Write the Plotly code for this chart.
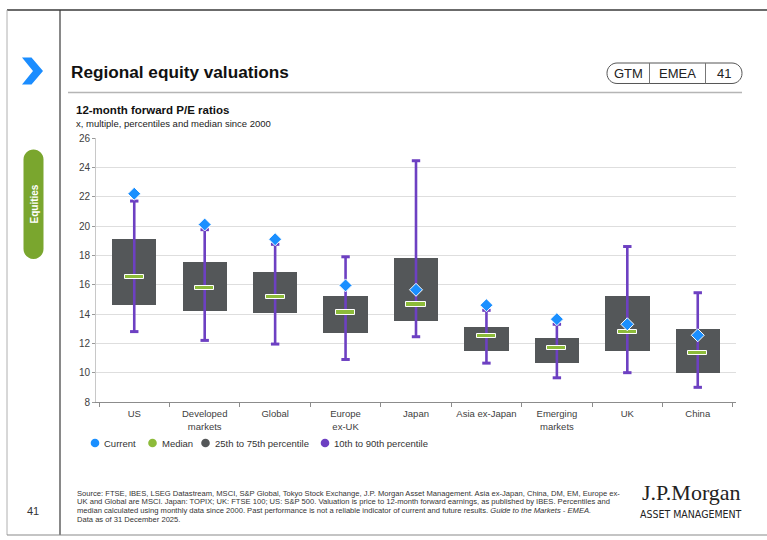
import plotly.graph_objects as go

# ---------------- data ----------------
categories = ["US", "Developed<br>markets", "Global", "Europe<br>ex-UK", "Japan",
              "Asia ex-Japan", "Emerging<br>markets", "UK", "China"]
p10 = [12.8, 12.2, 11.95, 10.9, 12.45, 10.65, 9.65, 10.0, 9.0]
p25 = [14.6, 14.2, 14.05, 12.7, 13.5, 11.45, 10.65, 11.45, 10.0]
median = [16.55, 15.75, 15.15, 14.1, 14.65, 12.5, 11.7, 12.75, 11.35]
p75 = [19.1, 17.55, 16.85, 15.25, 17.8, 13.1, 12.35, 15.25, 12.95]
p90 = [21.7, 19.75, 18.75, 17.9, 24.45, 14.25, 13.3, 18.6, 15.45]
current = [22.2, 20.1, 19.1, 15.95, 15.65, 14.6, 13.65, 13.3, 12.55]
y_ticks = [8, 10, 12, 14, 16, 18, 20, 22, 24, 26]

legend_labels = ["Current", "Median", "25th to 75th percentile", "10th to 90th percentile"]

C_BOX = "#545759"
C_WHISK = "#6d40c2"
C_MED = "#8dbb3a"
C_CUR = "#1a8fff"
C_PILL = "#7aa62e"
FONT = "Arial, Liberation Sans, sans-serif"

W, H = 767, 540
L, R, T, B = 96, 736, 138, 402  # plot area in pixels


def px(x):
    return (x - L) / (R - L)


def py(y):
    return (B - y) / (B - T)


def P(x, y):
    return f"{px(x):.5f},{py(y):.5f}"


def rrect(x0, y0, x1, y1, r):
    k = 0.5523 * r
    return (f"M{P(x0 + r, y0)} L{P(x1 - r, y0)} "
            f"C{P(x1 - r + k, y0)} {P(x1, y0 + r - k)} {P(x1, y0 + r)} "
            f"L{P(x1, y1 - r)} "
            f"C{P(x1, y1 - r + k)} {P(x1 - r + k, y1)} {P(x1 - r, y1)} "
            f"L{P(x0 + r, y1)} "
            f"C{P(x0 + r - k, y1)} {P(x0, y1 - r + k)} {P(x0, y1 - r)} "
            f"L{P(x0, y0 + r)} "
            f"C{P(x0, y0 + r - k)} {P(x0 + r - k, y0)} {P(x0 + r, y0)} Z")


fig = go.Figure()

# 25th-75th boxes
fig.add_trace(go.Bar(
    x=categories, y=[a - b for a, b in zip(p75, p25)], base=p25,
    width=0.63, marker=dict(color=C_BOX, line=dict(width=0)),
    showlegend=False, hoverinfo="skip"))

# 10th-90th whiskers
wx, wy = [], []
for c, lo, hi in zip(categories, p10, p90):
    wx += [c, c, None]
    wy += [lo, hi, None]
fig.add_trace(go.Scatter(x=wx, y=wy, mode="lines",
                         line=dict(color=C_WHISK, width=2.6),
                         showlegend=False, hoverinfo="skip"))
fig.add_trace(go.Scatter(x=categories + categories, y=p10 + p90, mode="markers",
                         marker=dict(symbol="line-ew", size=6,
                                     line=dict(color=C_WHISK, width=3)),
                         showlegend=False, hoverinfo="skip", cliponaxis=False))

# medians (overlay axes so they sit above whiskers)
fig.add_trace(go.Bar(
    x=categories, y=[0.28] * len(median), base=[m - 0.14 for m in median],
    width=0.27, marker=dict(color=C_MED, line=dict(color="white", width=1)),
    xaxis="x2", yaxis="y2", showlegend=False, hoverinfo="skip"))

# current
fig.add_trace(go.Scatter(
    x=categories, y=current, mode="markers",
    marker=dict(symbol="diamond", size=10, color=C_CUR,
                line=dict(color="white", width=1)),
    xaxis="x2", yaxis="y2", showlegend=False, cliponaxis=False))

shapes = []
annotations = []

# frame lines
shapes.append(dict(type="line", xref="paper", yref="paper", x0=px(7), x1=px(767),
                   y0=py(10), y1=py(10), line=dict(color="#3a3a3a", width=1.5)))
shapes.append(dict(type="line", xref="paper", yref="paper", x0=px(7), x1=px(7),
                   y0=py(10), y1=py(535), line=dict(color="#b0b0b0", width=1)))
shapes.append(dict(type="line", xref="paper", yref="paper", x0=px(60), x1=px(60),
                   y0=py(10), y1=py(535), line=dict(color="#3a3a3a", width=1.2)))
shapes.append(dict(type="line", xref="paper", yref="paper", x0=px(7), x1=px(767),
                   y0=py(535), y1=py(535), line=dict(color="#8a8a8a", width=1.2)))
# title underline
shapes.append(dict(type="line", xref="paper", yref="paper", x0=px(68), x1=px(742),
                   y0=py(92.5), y1=py(92.5), line=dict(color="#b5b5b5", width=1.5)))

# chevron
chev = (f"M{P(22, 57.5)} L{P(31.5, 57.5)} L{P(43, 71)} L{P(31.5, 84.5)} "
        f"L{P(22, 84.5)} L{P(33, 71)} Z")
shapes.append(dict(type="path", xref="paper", yref="paper", path=chev,
                   fillcolor="#1b8dff", line=dict(width=0)))

# Equities pill
shapes.append(dict(type="path", xref="paper", yref="paper",
                   path=rrect(23.5, 149.5, 43.5, 259, 10),
                   fillcolor=C_PILL, line=dict(width=0)))
annotations.append(dict(text="<b>Equities</b>", xref="paper", yref="paper",
                        x=px(33.5), y=py(204), showarrow=False, textangle=-90,
                        font=dict(family=FONT, size=10, color="white"),
                        xanchor="center", yanchor="middle"))

# GTM pill
shapes.append(dict(type="path", xref="paper", yref="paper",
                   path=rrect(607, 63, 742, 83.5, 10),
                   fillcolor="rgba(0,0,0,0)", line=dict(color="#555", width=1)))
for xx in (649.5, 705.5):
    shapes.append(dict(type="line", xref="paper", yref="paper", x0=px(xx), x1=px(xx),
                       y0=py(63), y1=py(83.5), line=dict(color="#777", width=1)))
for txt, xx in (("GTM", 628), ("EMEA", 677.5), ("41", 724)):
    annotations.append(dict(text=txt, xref="paper", yref="paper", x=px(xx), y=py(73.5),
                            showarrow=False, xanchor="center", yanchor="middle",
                            font=dict(family=FONT, size=13, color="#222")))

# titles
annotations.append(dict(text="<b>Regional equity valuations</b>", xref="paper", yref="paper",
                        x=px(69), y=py(72), showarrow=False, xanchor="left", yanchor="middle",
                        font=dict(family=FONT, size=17.2, color="#111")))
annotations.append(dict(text="<b>12-month forward P/E ratios</b>", xref="paper", yref="paper",
                        x=px(74), y=py(110), showarrow=False, xanchor="left", yanchor="middle",
                        font=dict(family=FONT, size=11.5, color="#111")))
annotations.append(dict(text="x, multiple, percentiles and median since 2000", xref="paper",
                        yref="paper", x=px(74), y=py(123.5), showarrow=False,
                        xanchor="left", yanchor="middle",
                        font=dict(family=FONT, size=9.5, color="#222")))

# custom legend
leg_colors = [C_CUR, C_MED, C_BOX, C_WHISK]
leg_x = [95, 152.5, 205.5, 325]
for lab, col, xx in zip(legend_labels, leg_colors, leg_x):
    shapes.append(dict(type="circle", xref="paper", yref="paper",
                       x0=px(xx - 4.3), x1=px(xx + 4.3), y0=py(443 - 4.3), y1=py(443 + 4.3),
                       fillcolor=col, line=dict(width=0)))
    annotations.append(dict(text=lab, xref="paper", yref="paper", x=px(xx + 7), y=py(443),
                            showarrow=False, xanchor="left", yanchor="middle",
                            font=dict(family=FONT, size=9.5, color="#333")))

# footer
footer_lines = [
    "Source: FTSE, IBES, LSEG Datastream, MSCI, S&P Global, Tokyo Stock Exchange, J.P. Morgan Asset Management. Asia ex-Japan, China, DM, EM, Europe ex-",
    "UK and Global are MSCI. Japan: TOPIX; UK: FTSE 100; US: S&P 500. Valuation is price to 12-month forward earnings, as published by IBES. Percentiles and",
    "median calculated using monthly data since 2000. Past performance is not a reliable indicator of current and future results. <i>Guide to the Markets - EMEA.</i>",
    "Data as of 31 December 2025.",
]
for i, line in enumerate(footer_lines):
    annotations.append(dict(text=line, xref="paper", yref="paper", x=px(75),
                            y=py(493 + 8.8 * i), showarrow=False, xanchor="left",
                            yanchor="middle",
                            font=dict(family=FONT, size=7.6, color="#333")))
annotations.append(dict(text="41", xref="paper", yref="paper", x=px(33), y=py(511),
                        showarrow=False, xanchor="center", yanchor="middle",
                        font=dict(family=FONT, size=11, color="#333")))
annotations.append(dict(text="J.P.Morgan", xref="paper", yref="paper", x=px(691), y=py(492.5),
                        showarrow=False, xanchor="center", yanchor="middle",
                        font=dict(family="Liberation Serif, Times New Roman, serif",
                                  size=22, color="#222")))
annotations.append(dict(text="ASSET MANAGEMENT", xref="paper", yref="paper", x=px(691),
                        y=py(513.5), showarrow=False, xanchor="center", yanchor="middle",
                        font=dict(family="DejaVu Sans Condensed, Liberation Sans Narrow, sans-serif",
                                  size=10.5, color="#222")))

fig.update_layout(
    width=W, height=H,
    margin=dict(l=L, r=W - R, t=T, b=H - B, pad=0),
    paper_bgcolor="white", plot_bgcolor="white",
    barmode="overlay", bargap=0,
    showlegend=False,
    font=dict(family=FONT, size=10, color="#404040"),
    shapes=shapes, annotations=annotations,
    xaxis=dict(type="category", categoryorder="array", categoryarray=categories,
               showline=True, linecolor="#8c8c8c", linewidth=1,
               ticks="outside", tickson="boundaries", ticklen=4, tickcolor="#8c8c8c",
               ticklabelstandoff=3,
               tickfont=dict(size=9.5, color="#404040"), showgrid=False, fixedrange=True),
    yaxis=dict(range=[8, 26], tickvals=y_ticks, showgrid=True, gridcolor="#dedede",
               gridwidth=1, showline=True, linecolor="#c8c8c8", linewidth=1,
               ticks="outside", ticklen=3, tickcolor="#999", zeroline=False,
               tickfont=dict(size=10, color="#404040"), fixedrange=True),
    xaxis2=dict(type="category", categoryorder="array", categoryarray=categories,
                overlaying="x", matches="x", visible=False, showgrid=False),
    yaxis2=dict(range=[8, 26], overlaying="y", matches="y", visible=False, showgrid=False),
)

fig.write_html("out.html", config={"displayModeBar": False},
               post_script="document.body.style.margin='0';document.body.style.padding='0';")
